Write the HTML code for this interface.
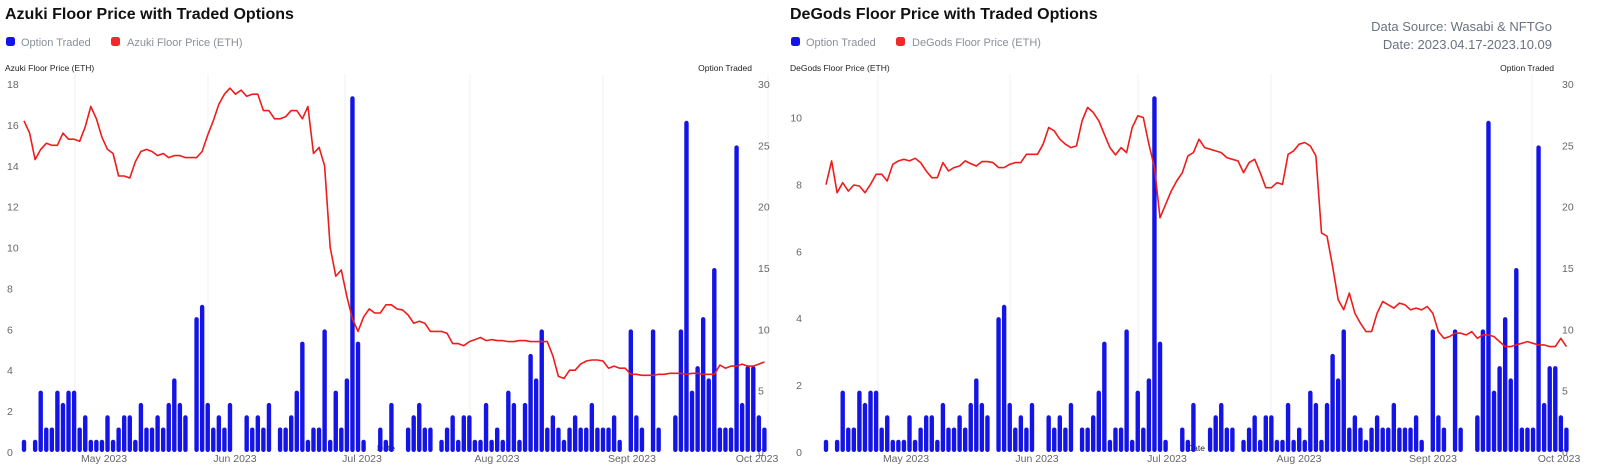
<!DOCTYPE html>
<html><head><meta charset="utf-8"><style>
body{margin:0;background:#fff;width:1600px;height:476px;overflow:hidden;font-family:"Liberation Sans",sans-serif}
svg{position:absolute;left:0;top:0}
</style></head><body>
<svg id="c" width="1600" height="476"></svg>
<script>
const options = [1,0,1,5,2,2,5,4,5,5,2,3,1,1,1,3,1,2,3,3,1,4,2,2,3,2,4,6,4,3,0,11,12,4,2,3,2,4,0,0,3,2,3,2,4,0,2,2,3,5,9,1,2,2,10,1,5,2,6,29,9,1,0,0,2,1,4,0,0,2,3,4,2,2,0,1,2,3,1,3,3,1,1,4,1,2,1,5,4,1,4,8,6,10,2,3,2,1,2,3,2,2,4,2,2,2,3,1,0,10,3,2,0,10,2,0,0,3,10,27,5,7,11,6,15,2,2,2,25,4,7,7,3,2];
const azuki = [16.2,15.6,14.3,14.8,15.1,15.0,15.0,15.6,15.3,15.3,15.2,15.9,16.9,16.3,15.4,14.8,14.6,13.5,13.5,13.4,14.2,14.7,14.8,14.7,14.5,14.6,14.4,14.5,14.5,14.4,14.4,14.4,14.7,15.5,16.2,17.0,17.5,17.8,17.5,17.7,17.4,17.5,17.5,16.7,16.7,16.3,16.3,16.4,16.7,16.7,16.3,16.9,14.6,14.9,14.0,10,8.6,8.9,7.6,6.5,5.9,6.6,7.0,6.8,6.8,7.2,7.2,7.0,6.95,6.7,6.3,6.4,6.3,5.9,5.9,5.9,5.8,5.3,5.3,5.2,5.4,5.5,5.6,5.45,5.5,5.45,5.45,5.4,5.4,5.45,5.45,5.4,5.4,5.4,5.4,4.7,3.7,3.6,4.0,4.0,4.3,4.45,4.5,4.5,4.45,4.1,4.2,4.1,4.1,3.8,3.8,3.75,3.75,3.75,3.8,3.8,3.85,3.85,3.85,3.8,3.85,3.85,3.8,3.8,3.8,4.25,4.1,4.2,4.2,4.3,4.2,4.2,4.3,4.4];
const degods = [7.99,8.7,7.75,8.05,7.8,7.98,7.95,7.75,8.0,8.3,8.3,8.1,8.6,8.7,8.75,8.7,8.78,8.65,8.4,8.2,8.2,8.65,8.4,8.5,8.55,8.7,8.62,8.55,8.68,8.68,8.65,8.5,8.5,8.6,8.65,8.65,8.9,8.9,8.9,9.2,9.7,9.6,9.35,9.2,9.1,9.15,9.9,10.3,10.15,9.9,9.5,9.1,8.88,9.1,8.95,9.7,10.05,10.0,9.2,8.5,7.0,7.4,7.8,8.1,8.35,8.85,8.95,9.35,9.1,9.05,9.0,8.95,8.8,8.75,8.7,8.35,8.65,8.75,8.35,7.9,7.9,8.05,8.0,8.9,9.0,9.2,9.25,9.15,8.85,6.55,6.45,5.55,4.55,4.25,4.75,4.15,3.85,3.6,3.6,4.15,4.5,4.4,4.3,4.45,4.4,4.25,4.3,4.25,4.35,4.15,3.6,3.4,3.45,3.55,3.55,3.5,3.6,3.4,3.5,3.5,3.45,3.3,3.15,3.15,3.2,3.25,3.3,3.25,3.2,3.2,3.15,3.15,3.4,3.15];
const months = ["May 2023","Jun 2023","Jul 2023","Aug 2023","Sept 2023","Oct 2023"];
const rightTicks = [0,5,10,15,20,25,30];
const azukiTicks = [0,2,4,6,8,10,12,14,16,18];
const degodsTicks = [0,2,4,6,8,10];

const NS="http://www.w3.org/2000/svg";
const svg=document.getElementById('c');
function mk(tag,attrs,parent,txt){const e=document.createElementNS(NS,tag);for(const k in attrs)e.setAttribute(k,attrs[k]);if(txt!==undefined)e.textContent=txt;(parent||svg).appendChild(e);return e;}

function chart(cfg){
  const g=mk('g',{});
  
  
  const top=84,bot=452,slot=5.567;
  const xs=i=>cfg.x0+i*slot;
  const yL=v=>bot-(v/cfg.lmax)*(bot-top);
  const yR=v=>bot-(v/30)*(bot-top);
  cfg.grid.forEach(gx=>{const l=mk('line',{x1:gx,x2:gx,y1:top-10,y2:bot,stroke:'#f0f0f0','stroke-width':1},g);});
  const t=mk('text',{x:cfg.tx,y:19,'font-size':16,'font-weight':'bold',fill:'#111'},g,cfg.title);
  
  const l1=mk('rect',{x:cfg.tx+1,y:37,width:9,height:9,rx:2.5,fill:'#1414e6'},g);
  
  const lt1=mk('text',{x:cfg.tx+16,y:46,'font-size':11,fill:'#8a8f99'},g,'Option Traded');
  
  const l2=mk('rect',{x:cfg.tx+106,y:37,width:9,height:9,rx:2.5,fill:'#ee2a2a'},g);
  
  const lt2=mk('text',{x:cfg.tx+122,y:46,'font-size':11,fill:'#8a8f99'},g,cfg.legend);
  
  const at=mk('text',{x:cfg.tx,y:71,'font-size':8.5,fill:'#222'},g,cfg.legend);
  
  const rt=mk('text',{x:cfg.rtx,y:71,'font-size':8.5,fill:'#222','text-anchor':'end'},g,'Option Traded');
  
  cfg.lticks.forEach(v=>{const e=mk('text',{x:cfg.lx,y:yL(v)+4,'font-size':10.5,fill:'#666','text-anchor':cfg.lanchor},g,String(v));});
  rightTicks.forEach(v=>{const e=mk('text',{x:cfg.rx,y:yR(v)+4,'font-size':10.5,fill:'#666'},g,String(v));});
  months.forEach((m,i)=>{const e=mk('text',{x:cfg.mx[i],y:462,'font-size':10.5,fill:'#666','text-anchor':'middle'},g,m);});
  const dt=mk('text',{x:cfg.dx,y:451,'font-size':8.5,fill:'#222'},g,'Date');
  
  options.forEach((v,i)=>{if(!v)return;const y=yR(v);const b=mk('rect',{x:xs(i)-2.2,y:y,width:4.4,height:bot-y,rx:2.2,fill:'#1414e6'},g);
    
    });
  const d=cfg.price.map((v,i)=>(i?'L':'M')+xs(i).toFixed(1)+','+yL(v).toFixed(1)).join(' ');
  const p=mk('path',{d:d,fill:'none',stroke:'#ee1c1c','stroke-width':1.6,'stroke-linejoin':'round'},g);
  
  
}
chart({name:'azuki-chart',title:'Azuki Floor Price with Traded Options',legend:'Azuki Floor Price (ETH)',x0:24,lmax:18,lticks:azukiTicks,price:azuki,tx:5,rtx:752,lx:7,lanchor:'start',rx:758,mx:[104,235,362,497,632,757],dx:377,grid:[75,208,345,470,603,768]});
chart({name:'degods-chart',title:'DeGods Floor Price with Traded Options',legend:'DeGods Floor Price (ETH)',x0:826,lmax:11,lticks:degodsTicks,price:degods,tx:790,rtx:1554,lx:802,lanchor:'end',rx:1562,mx:[906,1037,1167,1299,1433,1559],dx:1187,grid:[878,1010,1138,1271,1532]});
const s1=mk('text',{x:1552,y:31,'font-size':13,fill:'#6b7280','text-anchor':'end'},svg,'Data Source: Wasabi & NFTGo');

const s2=mk('text',{x:1552,y:49,'font-size':13,fill:'#6b7280','text-anchor':'end'},svg,'Date: 2023.04.17-2023.10.09');

</script>
</body></html>
